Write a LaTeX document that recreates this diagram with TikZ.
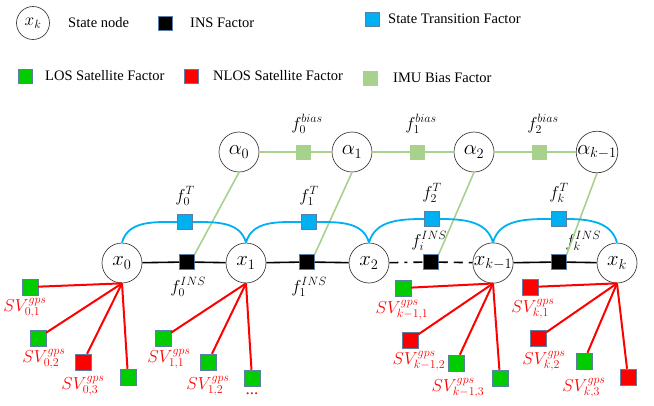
\documentclass[tikz,border=0pt]{standalone}
\usepackage{fontspec}
\setmainfont{Liberation Serif}
\definecolor{stblue}{HTML}{00B0F0}
\definecolor{losgreen}{HTML}{00CC00}
\definecolor{nlosred}{HTML}{FF0000}
\definecolor{biasgreen}{HTML}{A9D18E}
\definecolor{sqborder}{HTML}{5B7FA6}
\begin{document}
\begin{tikzpicture}[x=1pt,y=1pt,
  state/.style={circle, draw=black!75, line width=0.7pt, minimum size=40pt, inner sep=0pt, font=\fontsize{21}{24}\selectfont},
  fac/.style={rectangle, minimum size=15pt, inner sep=0pt, draw=sqborder, line width=0.5pt},
  insf/.style={fac, fill=black},
  stf/.style={fac, fill=stblue},
  losf/.style={fac, fill=losgreen, minimum size=16pt},
  nlosf/.style={fac, fill=nlosred, minimum size=16pt},
  biasf/.style={fac, fill=biasgreen, draw=biasgreen, minimum size=14pt},
  leg/.style={font=\fontsize{14.5}{16}\selectfont, anchor=west, inner sep=0pt},
  flbl/.style={font=\fontsize{17}{19}\selectfont, inner sep=0pt},
  svl/.style={text=nlosred, font=\fontsize{17}{19}\selectfont, inner sep=0pt},
  blk/.style={line width=1.6pt, black},
  blu/.style={line width=1.8pt, stblue},
  grn/.style={line width=1.6pt, biasgreen},
  rd/.style={line width=2pt, nlosred}
]
\useasboundingbox (0,0) rectangle (654,-405);

% legend
\node[state, minimum size=33pt, font=\fontsize{18}{20}\selectfont] (lx) at (33,-23) {$x_k$};
\node[leg] (lt1) at (68,-23) {State node};
\node[insf, minimum size=14pt] (lins) at (165,-23) {};
\node[leg] (lt2) at (190,-23) {INS Factor};
\node[stf, minimum size=14pt] (lst) at (372,-19) {};
\node[leg] (lt3) at (388,-19) {State Transition Factor};
\node[losf, minimum size=14pt] (llos) at (25,-76) {};
\node[leg] (lt4) at (45,-76) {LOS Satellite Factor};
\node[nlosf, minimum size=14pt] (lnlos) at (191,-76) {};
\node[leg] (lt5) at (213,-76) {NLOS Satellite Factor};
\node[biasf] (lbias) at (370,-78) {};
\node[leg] (lt6) at (393,-78) {IMU Bias Factor};

% bias nodes
\node[state] (a0) at (239,-152) {$\alpha_0$};
\node[state] (a1) at (352,-152) {$\alpha_1$};
\node[state] (a2) at (474,-152) {$\alpha_2$};
\node[state] (ak) at (597,-152) {$\alpha_{k-1}$};
\node[biasf] (fb0) at (303,-152) {};
\node[biasf] (fb1) at (417,-152) {};
\node[biasf] (fb2) at (539,-152) {};
\node[flbl] (lb0) at (307,-124) {$f_0^{bias}$};
\node[flbl] (lb1) at (421,-124) {$f_1^{bias}$};
\node[flbl] (lb2) at (543,-124) {$f_2^{bias}$};
\draw[grn] (a0) -- (fb0) -- (a1) -- (fb1) -- (a2) -- (fb2) -- (ak);

% state nodes
\node[state] (x0) at (122,-263) {$x_0$};
\node[state] (x1) at (246,-263) {$x_1$};
\node[state] (x2) at (369,-263) {$x_2$};
\node[state] (xk1) at (493,-263) {$x_{k-1}$};
\node[state] (xk) at (617,-263) {$x_k$};

% INS factors
\node[insf] (fi0) at (187,-262) {};
\node[insf] (fi1) at (307,-262) {};
\node[insf] (fii) at (431,-262) {};
\node[insf] (fik) at (559,-262) {};
\node[flbl] (li0) at (188,-287) {$f_0^{INS}$};
\node[flbl] (li1) at (309,-287) {$f_1^{INS}$};
\node[flbl] (lii) at (429,-241) {$f_i^{INS}$};
\node[flbl] (lik) at (583,-241) {$f_k^{INS}$};
\draw[blk] (x0) -- (fi0) -- (x1) -- (fi1) -- (x2);
\draw[blk, dash pattern=on 9pt off 6pt on 3pt off 6pt] (x2) -- (fii);
\draw[blk, dash pattern=on 9pt off 6pt] (fii) -- (xk1);
\draw[blk] (xk1) -- (fik) -- (xk);

% bias to INS
\draw[grn] (a0.south) -- (fi0.north east);
\draw[grn] (a1.south) -- (fi1.north east);
\draw[grn] (a2.south) -- (fii.north east);
\draw[grn] (ak.south) -- (fik.north east);

% state transition factors
\node[stf] (ft0) at (185,-222) {};
\node[stf] (ft1) at (309,-222) {};
\node[stf] (ft2) at (432,-219) {};
\node[stf] (ftk) at (559,-219) {};
\node[flbl] (lt0l) at (185,-196) {$f_0^T$};
\node[flbl] (lt1l) at (309,-196) {$f_1^T$};
\node[flbl] (lt2l) at (432,-193) {$f_2^T$};
\node[flbl] (ltkl) at (559,-193) {$f_k^T$};
\draw[blu] (x0.north) to[out=75,in=180] (ft0) to[out=0,in=105] (x1.north);
\draw[blu] (x1.north) to[out=75,in=180] (ft1) to[out=0,in=105] (x2.north);
\draw[blu] (x2.north) to[out=75,in=180] (ft2) to[out=0,in=105] (xk1.north);
\draw[blu] (xk1.north) to[out=75,in=180] (ftk) to[out=0,in=105] (xk.north);

% satellites of x0
\node[losf] (s01) at (30,-287) {};
\node[losf] (s02) at (38,-338) {};
\node[nlosf] (s03) at (83,-362) {};
\node[losf] (s04) at (128,-377) {};
\node[svl] (ls01) at (25,-308) {$SV_{0,1}^{gps}$};
\node[svl] (ls02) at (44,-359) {$SV_{0,2}^{gps}$};
\node[svl] (ls03) at (83,-386) {$SV_{0,3}^{gps}$};
\foreach \s in {s01,s02,s03,s04} \draw[rd] (\s) -- (x0.south);

% satellites of x1
\node[losf] (s11) at (163,-338) {};
\node[losf] (s12) at (208,-362) {};
\node[losf] (s13) at (252,-378) {};
\node[svl] (ls11) at (169,-359) {$SV_{1,1}^{gps}$};
\node[svl] (ls12) at (208,-386) {$SV_{1,2}^{gps}$};
\node[svl] (ls13) at (252,-394) {...};
\foreach \s in {s11,s12,s13} \draw[rd] (\s) -- (x1.south);

% satellites of x_{k-1}
\node[losf] (sa1) at (403,-288) {};
\node[nlosf] (sa2) at (410,-340) {};
\node[losf] (sa3) at (456,-363) {};
\node[losf] (sa4) at (500,-378) {};
\node[svl] (lsa1) at (402,-310) {$SV_{k-1,1}^{gps}$};
\node[svl] (lsa2) at (419,-361) {$SV_{k-1,2}^{gps}$};
\node[svl] (lsa3) at (458,-388) {$SV_{k-1,3}^{gps}$};
\foreach \s in {sa1,sa2,sa3,sa4} \draw[rd] (\s) -- (xk1.south);

% satellites of x_k
\node[nlosf] (sb1) at (530,-287) {};
\node[nlosf] (sb2) at (538,-338) {};
\node[losf] (sb3) at (584,-361) {};
\node[nlosf] (sb4) at (628,-377) {};
\node[svl] (lsb1) at (533,-309) {$SV_{k,1}^{gps}$};
\node[svl] (lsb2) at (544,-361) {$SV_{k,2}^{gps}$};
\node[svl] (lsb3) at (584,-388) {$SV_{k,3}^{gps}$};
\foreach \s in {sb1,sb2,sb3,sb4} \draw[rd] (\s) -- (xk.south);
\end{tikzpicture}
\end{document}
